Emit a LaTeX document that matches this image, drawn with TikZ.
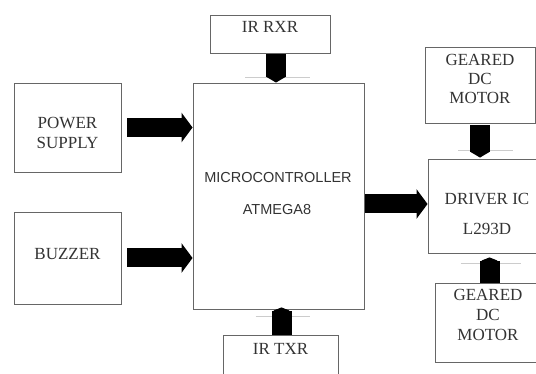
\documentclass[tikz,border=0pt]{standalone}
\usepackage{fontspec}
\setmainfont{Liberation Serif}
\newfontfamily\sansf{Liberation Sans}
\usetikzlibrary{arrows.meta}
\begin{document}
\begin{tikzpicture}[x=1pt,y=-1pt,
  blk/.style={draw=black!60, line width=0.9pt, inner sep=0pt, fill=white},
  lbl/.style={font=\fontsize{17}{20}\selectfont, text=black!80, align=center, inner sep=0pt},
  sanslbl/.style={font=\sansf\fontsize{14.5}{20}\selectfont, text=black!80, inner sep=0pt},
  harrow/.style={line width=19pt, -{Triangle[length=11pt,width=29pt]}},
  darrow/.style={line width=20pt, -{Triangle[length=6pt,width=20pt]}},
  uarrow/.style={line width=20pt, -{Triangle[length=4pt,width=20pt,round]}},
  wing/.style={draw=black!20, line width=1.2pt}
]
\useasboundingbox (0,0) rectangle (536,374);
\begin{scope}
\clip (0,0) rectangle (536,374);
% boxes
\node[blk, minimum width=107pt, minimum height=89pt] (ps) at (67.5,127.5) {};
\node[blk, minimum width=107pt, minimum height=92pt] (bz) at (67.5,258) {};
\node[blk, minimum width=171pt, minimum height=226pt] (mc) at (278.5,196) {};
\node[blk, minimum width=120pt, minimum height=38pt] (rx) at (270,34) {};
\node[blk, minimum width=115pt, minimum height=55pt] (tx) at (280.5,362.5) {};
\node[blk, minimum width=110pt, minimum height=76pt] (m1) at (480,85) {};
\node[blk, minimum width=118pt, minimum height=94pt] (di) at (487,206) {};
\node[blk, minimum width=106pt, minimum height=79pt] (m2) at (488,322.5) {};
% texts
\node[lbl] (pst) at (67.5,132.5) {POWER\\SUPPLY};
\node[lbl] (bzt) at (67.5,254) {BUZZER};
\node[lbl] (rxt) at (270,27) {IR RXR};
\node[lbl] (txt) at (280.5,349) {IR TXR};
\node[lbl, font=\fontsize{17}{19}\selectfont] (m1t) at (480,79) {GEARED\\DC\\MOTOR};
\node[lbl, font=\fontsize{17}{20}\selectfont] (m2t) at (488,315) {GEARED\\DC\\MOTOR};
\node[lbl, font=\fontsize{17}{30}\selectfont] (dit) at (487,214) {DRIVER IC\\L293D};
\node[sanslbl] (mct1) at (278,178) {MICROCONTROLLER};
\node[sanslbl] (mct2) at (277,210) {ATMEGA8};
% arrows
\draw[harrow, shorten <=6pt] (ps.east) -- (ps.east -| mc.west);
\draw[harrow, shorten <=6pt] (bz.east) -- (bz.east -| mc.west);
\coordinate (dw) at ([yshift=2pt]di.west);
\draw[harrow, shorten <=1pt] (dw -| mc.east) -- (dw);
\coordinate (rxa) at ([xshift=6pt]rx.south);
\coordinate (rxw) at ([yshift=5pt]rxa |- mc.north);
\draw[wing] ([xshift=-31pt]rxw) -- ([xshift=34pt]rxw);
\draw[darrow, shorten <=1pt] (rxa) -- (rxa |- mc.north);
\coordinate (m1w) at ([yshift=8pt]m1.south |- di.north);
\draw[wing] ([xshift=-22pt]m1w) -- ([xshift=33pt]m1w);
\draw[darrow, shorten <=2pt, shorten >=1pt] (m1.south) -- (m1.south |- di.north);
\coordinate (m2a) at ([xshift=1.5pt]m2.north);
\coordinate (m2w) at ([yshift=-10pt]m2a |- di.south);
\draw[wing] ([xshift=-29pt]m2w) -- ([xshift=31pt]m2w);
\draw[uarrow, shorten >=4pt] (m2a) -- (m2a |- di.south);
\coordinate (txa) at ([xshift=1pt]tx.north);
\coordinate (txw) at ([yshift=-7pt]txa |- mc.south);
\draw[wing] ([xshift=-26pt]txw) -- ([xshift=28pt]txw);
\draw[uarrow, shorten >=-2pt] (txa) -- (txa |- mc.south);
\end{scope}
\end{tikzpicture}
\end{document}
